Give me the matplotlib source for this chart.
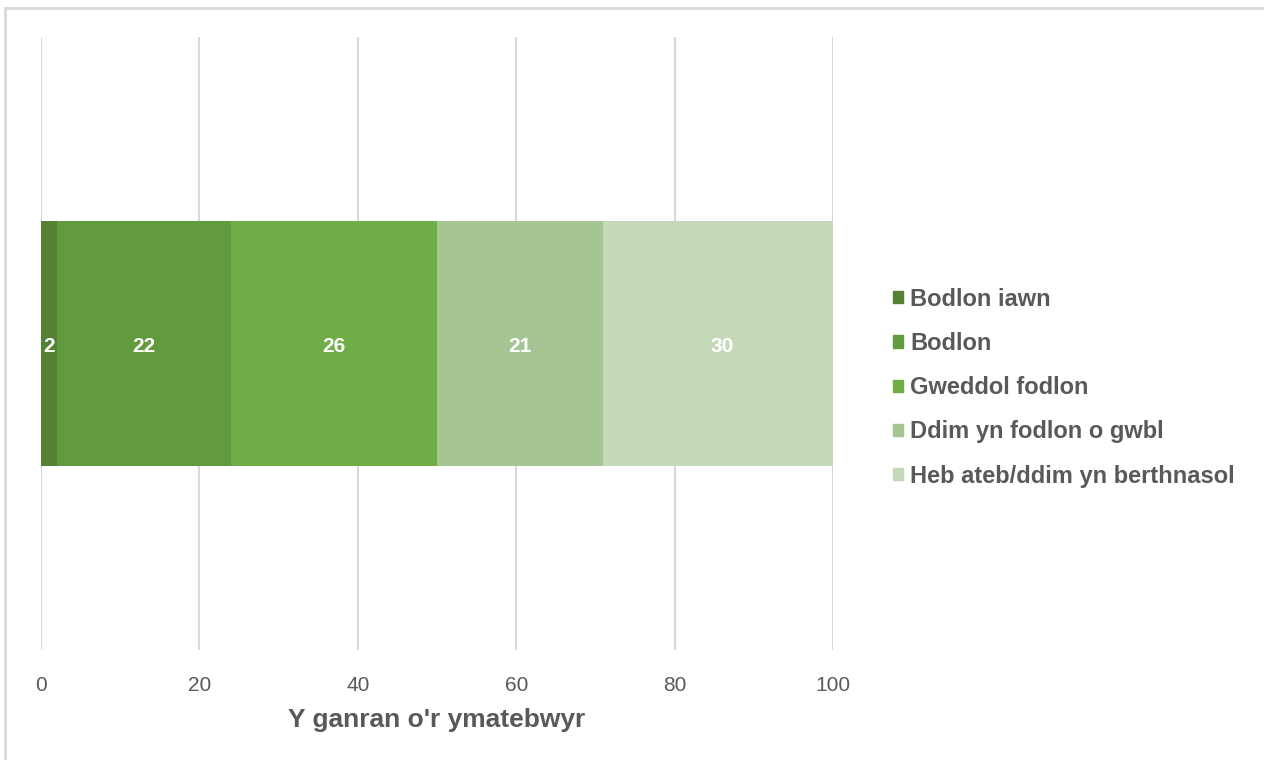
import matplotlib
matplotlib.use("Agg")
import matplotlib.pyplot as plt
from matplotlib.patches import Patch
from matplotlib.lines import Line2D

categories = ["Bodlon iawn", "Bodlon", "Gweddol fodlon",
              "Ddim yn fodlon o gwbl", "Heb ateb/ddim yn berthnasol"]
values = [2, 22, 26, 21, 30]
colors = ["#538135", "#629a3e", "#70ad47", "#a5c593", "#c5d9b9"]
xticks = [0, 20, 40, 60, 80, 100]
xlabel = "Y ganran o'r ymatebwyr"

GREY = "#595959"
plt.rcParams["font.family"] = ["Liberation Sans", "DejaVu Sans"]

fig = plt.figure(figsize=(12.64, 7.60), dpi=100)
ax = fig.add_axes([41 / 1264, 110 / 760, 792 / 1264, 613 / 760])

left = 0
for cat, v, c in zip(categories, values, colors):
    ax.barh(0, v, left=left, height=0.4, color=c, label=cat, zorder=2)
    ax.text(left + v / 2, -0.005, str(v), ha="center", va="center",
            color="white", fontsize=15, fontweight="bold", zorder=3)
    left += v

ax.set_xlim(0, 100)
ax.set_ylim(-0.5, 0.5)
ax.set_xticks(xticks)
ax.set_yticks([])
ax.grid(axis="x", color="#d9d9d9", linewidth=1.5, zorder=0)
for s in ax.spines.values():
    s.set_visible(False)
ax.tick_params(axis="x", length=0, pad=19, labelsize=15, labelcolor=GREY)
ax.set_xlabel(xlabel, fontsize=19, fontweight="bold", color=GREY, labelpad=9)

handles = [Patch(color=c) for c in colors]
fig.legend(handles, categories, loc="center left",
           bbox_to_anchor=(872 / 1264, 0.49), frameon=False,
           handlelength=0.42, handleheight=0.42, handletextpad=0.3,
           labelspacing=0.9, prop={"size": 17, "weight": "bold"},
           labelcolor=GREY)

# chart-area border (top and left edges visible)
fig.add_artist(Line2D([5 / 1264, 1], [1 - 8 / 760, 1 - 8 / 760],
                      transform=fig.transFigure, color="#d9d9d9", linewidth=2))
fig.add_artist(Line2D([5 / 1264, 5 / 1264], [0, 1 - 8 / 760],
                      transform=fig.transFigure, color="#d9d9d9", linewidth=2))

fig.savefig("out.png", dpi=100)
